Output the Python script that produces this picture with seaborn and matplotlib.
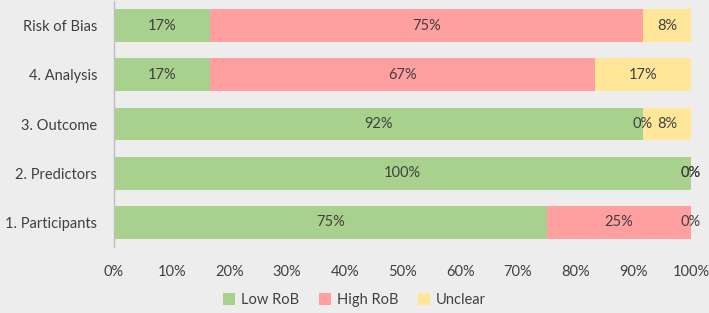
import matplotlib
matplotlib.use("Agg")
import matplotlib.pyplot as plt
import seaborn as sns
import pandas as pd
from matplotlib.patches import Patch

categories = ["Risk of Bias", "4. Analysis", "3. Outcome", "2. Predictors", "1. Participants"]
low_rob = [16.67, 16.67, 91.67, 100.0, 75.0]
high_rob = [75.0, 66.66, 0.0, 0.0, 25.0]
unclear = [8.33, 16.67, 8.33, 0.0, 0.0]
series_names = ["Low RoB", "High RoB", "Unclear"]
colors = ["#A9D18E", "#FF9F9F", "#FFE699"]
xticks = [0, 10, 20, 30, 40, 50, 60, 70, 80, 90, 100]

sns.set_theme(style="white")
plt.rcParams["font.family"] = ["Lato", "DejaVu Sans"]
txt = "#404040"
bg = "#EDEDED"
fs = 10.5

df = pd.DataFrame({"cat": categories, "low": low_rob, "high": high_rob, "unc": unclear})
df["c1"] = df["low"]
df["c2"] = df["low"] + df["high"]
df["c3"] = df["c2"] + df["unc"]

fig = plt.figure(figsize=(7.09, 3.13), dpi=100, facecolor=bg)
ax = fig.add_axes([114 / 709, 1 - 247 / 313, 577 / 709, 246 / 313])
ax.set_facecolor(bg)

for col, c in zip(["c3", "c2", "c1"], colors[::-1]):
    sns.barplot(data=df, x=col, y="cat", order=categories, color=c, width=0.67,
                saturation=1, ax=ax, orient="h", linewidth=0)

# labels
for i, row in df.iterrows():
    starts = [0, row["c1"], row["c2"]]
    vals = [row["low"], row["high"], row["unc"]]
    for s, v in zip(starts, vals):
        ax.text(s + v / 2, i, f"{v:.0f}%", ha="center", va="center",
                fontsize=fs, color=txt)

ax.set_xlim(0, 100)
ax.set_ylim(4.5, -0.5)
ax.set_xticks(xticks)
ax.set_xticklabels([f"{t}%" for t in xticks])
ax.set_xlabel("")
ax.set_ylabel("")
for s in ["top", "right", "bottom"]:
    ax.spines[s].set_visible(False)
ax.spines["left"].set_color("#BFBFBF")
ax.spines["left"].set_linewidth(1)
ax.tick_params(axis="x", length=0, pad=13, labelsize=fs, labelcolor=txt)
ax.tick_params(axis="y", length=0, pad=12, labelsize=fs, labelcolor=txt)

handles = [Patch(facecolor=c, edgecolor="none", label=n) for c, n in zip(colors, series_names)]
fig.legend(handles=handles, loc="center", bbox_to_anchor=(0.5, 1 - 300 / 313), ncol=3,
           frameon=False, fontsize=fs, labelcolor=txt, handlelength=0.8, handleheight=0.8,
           handletextpad=0.4, columnspacing=1.4)

fig.savefig("out.png", dpi=100, facecolor=bg)
